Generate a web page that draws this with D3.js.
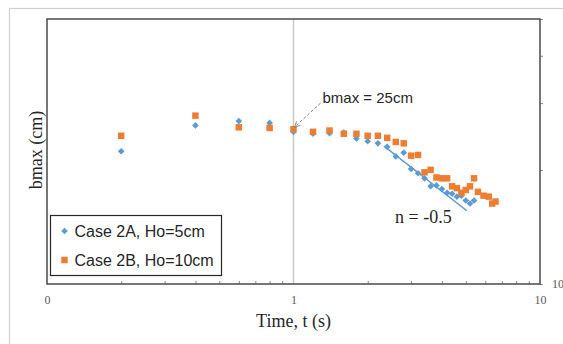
<!DOCTYPE html>
<html>
<head>
<meta charset="utf-8">
<script src="https://cdn.jsdelivr.net/npm/d3@7"></script>
<style>
  body { margin: 0; background: #fff; overflow: hidden; }
  svg { display: block; }
</style>
</head>
<body>
<div id="chart"></div>
<script>
// Case 2A, Ho=5cm
const timeA = [0.2, 0.4, 0.6, 0.8, 1.0, 1.2, 1.4, 1.6, 1.8, 2.0, 2.2, 2.4, 2.6, 2.8, 3.0, 3.2, 3.4,
               3.6, 3.8, 4.0, 4.2, 4.4, 4.6, 4.8, 5.0, 5.2, 5.4];
const bmaxA = [22.4, 26.2, 26.9, 26.6, 25.2, 24.9, 25.0, 25.1, 24.2, 23.8, 23.5, 23.0, 21.7, 22.2, 20.1, 19.6, 19.0,
               18.1, 18.2, 17.8, 17.4, 17.3, 17.0, 17.1, 16.6, 16.3, 16.6];

// Case 2B, Ho=10cm
const timeB = [0.2, 0.4, 0.6, 0.8, 1.0, 1.2, 1.4, 1.6, 1.8, 2.0, 2.2, 2.4, 2.6, 2.8, 3.0, 3.2, 3.4,
               3.6, 3.8, 4.0, 4.2, 4.4, 4.6, 4.8, 5.0, 5.2, 5.4, 5.6, 5.9, 6.2, 6.4, 6.6];
const bmaxB = [24.6, 27.8, 25.9, 25.8, 25.6, 25.2, 25.4, 24.9, 24.9, 24.6, 24.6, 24.3, 23.7, 23.5, 21.8, 21.9, 19.7,
               20.0, 19.1, 19.0, 19.0, 18.1, 17.9, 17.4, 17.7, 18.1, 19.0, 17.5, 17.1, 17.0, 16.3, 16.5];

// n = -0.5 slope line, end points
const trendTime = [2.33, 5.05];
const trendBmax = [23.1, 15.6];

const xTickValues = [0.1, 1, 10];
const xTickLabels = ["0", "1", "10"];
const xMinorTicks = [0.2, 0.3, 0.4, 0.5, 0.6, 0.7, 0.8, 0.9, 2, 3, 4, 5, 6, 7, 8, 9];
const yTickValues = [10, 20, 30, 40, 50];
const yTickLabels = ["10", "", "", "", ""];

const seriesNames = ["Case 2A, Ho=5cm", "Case 2B, Ho=10cm"];
const colors = ["#5B9BD5", "#ED7D31"];

const W = 563, H = 344;
const margin = {top: 19, right: 23, bottom: 60, left: 47};
const width = W - margin.left - margin.right;
const height = H - margin.top - margin.bottom;

const svg = d3.select("#chart").append("svg")
    .attr("width", W)
    .attr("height", H);

// outer chart frame
svg.append("rect")
    .attr("x", 9.5).attr("y", 8.5)
    .attr("width", 700).attr("height", 500)
    .attr("fill", "none")
    .attr("stroke", "#d0d0d0")
    .attr("stroke-width", 1.2);

const g = svg.append("g").attr("transform", `translate(${margin.left},${margin.top})`);

const x = d3.scaleLog().domain([0.1, 10]).range([0, width]);
const y = d3.scaleLog().domain([10, 50]).range([height, 0]);

// vertical grid line at t = 1
g.append("line")
    .attr("x1", x(1)).attr("x2", x(1))
    .attr("y1", 0).attr("y2", height)
    .attr("stroke", "#c8c8c8")
    .attr("stroke-width", 1.5);

// bottom axis: labels
const xAxis = d3.axisBottom(x)
    .tickValues(xTickValues)
    .tickFormat((d, i) => xTickLabels[i])
    .tickSize(0)
    .tickPadding(11);
g.append("g")
    .attr("transform", `translate(0,${height})`)
    .call(xAxis)
    .call(s => s.select(".domain").remove())
    .selectAll("text")
    .attr("font-family", "'Liberation Serif', serif")
    .attr("font-size", 12)
    .attr("fill", "#595959");

// bottom axis: minor ticks pointing up
g.append("g")
    .attr("transform", `translate(0,${height})`)
    .call(d3.axisTop(x).tickValues(xMinorTicks).tickSize(3).tickFormat(""))
    .call(s => s.select(".domain").remove())
    .selectAll("line")
    .attr("stroke", "#8c8c8c");

// right axis
const yAxis = d3.axisRight(y)
    .tickValues(yTickValues)
    .tickFormat((d, i) => yTickLabels[i])
    .tickSize(3)
    .tickPadding(9);
g.append("g")
    .attr("transform", `translate(${width},0)`)
    .call(yAxis)
    .call(s => s.select(".domain").remove())
    .call(s => s.selectAll("line").attr("stroke", "#8c8c8c"))
    .selectAll("text")
    .attr("font-family", "'Liberation Serif', serif")
    .attr("font-size", 12)
    .attr("fill", "#595959");

// plot border
g.append("rect")
    .attr("x", 0).attr("y", 0)
    .attr("width", width).attr("height", height)
    .attr("fill", "none")
    .attr("stroke", "#4a4a4a")
    .attr("stroke-width", 1.5);

// trend line
const trend = trendTime.map((t, i) => ({t: t, b: trendBmax[i]}));
g.append("path")
    .datum(trend)
    .attr("d", d3.line().x(d => x(d.t)).y(d => y(d.b)))
    .attr("stroke", colors[0])
    .attr("stroke-width", 1.5)
    .attr("fill", "none");

// series
const dataA = timeA.map((t, i) => ({t: t, b: bmaxA[i]}));
const dataB = timeB.map((t, i) => ({t: t, b: bmaxB[i]}));

const diamond = d3.symbol(d3.symbolSquare, 22);
const square = d3.symbol(d3.symbolSquare, 42);

g.append("g").selectAll("path")
    .data(dataA)
    .join("path")
    .attr("d", diamond)
    .attr("transform", d => `translate(${x(d.t)},${y(d.b)}) rotate(45)`)
    .attr("fill", colors[0]);

g.append("g").selectAll("path")
    .data(dataB)
    .join("path")
    .attr("d", square)
    .attr("transform", d => `translate(${x(d.t)},${y(d.b)})`)
    .attr("fill", colors[1]);

// annotation: bmax = 25cm with dashed arrow
svg.append("defs").append("marker")
    .attr("id", "arrow")
    .attr("viewBox", "0 0 10 10")
    .attr("refX", 9).attr("refY", 5)
    .attr("markerWidth", 7).attr("markerHeight", 7)
    .attr("orient", "auto")
    .append("path")
    .attr("d", "M1,1 L9,5 L1,9")
    .attr("fill", "none")
    .attr("stroke", "#7f7f7f")
    .attr("stroke-width", 1.2);

g.append("line")
    .attr("x1", x(1) + 27).attr("y1", y(25) - 30)
    .attr("x2", x(1) + 1).attr("y2", y(25) - 6)
    .attr("stroke", "#7f7f7f")
    .attr("stroke-width", 1)
    .attr("stroke-dasharray", "3,2")
    .attr("marker-end", "url(#arrow)");

g.append("text")
    .attr("x", x(1) + 29).attr("y", y(25) - 30)
    .attr("font-family", "'Liberation Sans', Arial, sans-serif")
    .attr("font-size", 15)
    .attr("fill", "#262626")
    .text("bmax = 25cm");

g.append("text")
    .attr("x", 348).attr("y", 204)
    .attr("font-family", "'Liberation Serif', serif")
    .attr("font-size", 18)
    .attr("fill", "#262626")
    .text("n = -0.5");

// legend
const legend = svg.append("g").attr("transform", "translate(50.5,215.5)");
legend.append("rect")
    .attr("width", 171).attr("height", 60)
    .attr("fill", "#fff")
    .attr("stroke", "#262626")
    .attr("stroke-width", 1.2);

legend.append("path")
    .attr("d", diamond)
    .attr("transform", "translate(14,15.5) rotate(45)")
    .attr("fill", colors[0]);
legend.append("path")
    .attr("d", square)
    .attr("transform", "translate(14,44.5)")
    .attr("fill", colors[1]);

legend.selectAll("text")
    .data(seriesNames)
    .join("text")
    .attr("x", 24)
    .attr("y", (d, i) => 21 + i * 29)
    .attr("font-family", "'Liberation Sans', Arial, sans-serif")
    .attr("font-size", 16)
    .attr("fill", "#262626")
    .text(d => d);

// axis titles
svg.append("text")
    .attr("x", margin.left + x(1))
    .attr("y", 327)
    .attr("text-anchor", "middle")
    .attr("font-family", "'Liberation Serif', serif")
    .attr("font-size", 18)
    .attr("fill", "#262626")
    .text("Time, t (s)");

svg.append("text")
    .attr("transform", "translate(42,150) rotate(-90)")
    .attr("text-anchor", "middle")
    .attr("font-family", "'Liberation Serif', serif")
    .attr("font-size", 18)
    .attr("fill", "#262626")
    .text("bmax (cm)");
</script>
</body>
</html>
